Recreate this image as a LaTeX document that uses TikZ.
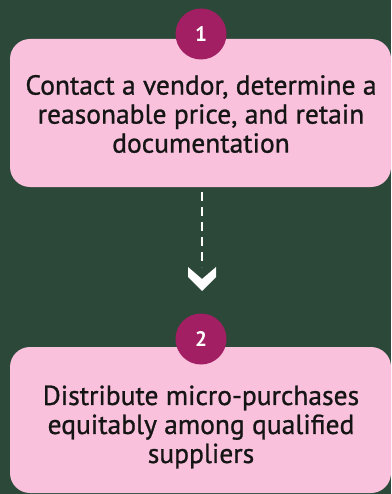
\documentclass[tikz,border=0pt]{standalone}
\usepackage{fontspec}
\setmainfont{PT Sans}
\newfontfamily\cardfont[FakeBold=0.9]{PT Sans}
\begin{document}
\begin{tikzpicture}[x=1pt,y=-1pt,
  board/.style={fill=chalk},
  stepcard/.style={fill=cardpink, rounded corners=20pt, inner sep=0pt},
  badge/.style={circle, fill=badgemag, minimum size=51pt, inner sep=0pt, text=white, font=\fontsize{21}{22}\selectfont\bfseries},
  cardtext/.style={align=center, text=inkdark, font=\cardfont\fontsize{27.5}{29}\selectfont},
  dashline/.style={draw=white, line width=2.6pt, dash pattern=on 9pt off 6pt},
  chevron/.style={fill=white}]
\definecolor{chalk}{HTML}{2C4838}
\definecolor{cardpink}{HTML}{F9C1DC}
\definecolor{badgemag}{HTML}{A31F63}
\definecolor{inkdark}{HTML}{151515}
\useasboundingbox (0,0) rectangle (391,494);
\fill[board] (0,0) rectangle (391,494);
% card 1
\node[stepcard, minimum width=381pt, minimum height=148pt] (b1) at (200.5,113) {};
\node[cardtext] (t1) at (201,114) {Contact a vendor, determine a\\reasonable price, and retain\\documentation};
\node[badge] (c1) at (201,34) {1};
% connector
\coordinate (chev) at (202,267);
\draw[dashline] (202,192) -- (chev);
\fill[chevron] (188,267) -- (202,279) -- (216,267) -- (216,277) -- (202,291) -- (188,277) -- cycle;
% card 2
\node[stepcard, minimum width=381pt, minimum height=146pt] (b2) at (200.5,420) {};
\node[cardtext] (t2) at (201,427) {Distribute micro-purchases\\equitably among qualified\\suppliers};
\node[badge] (c2) at (201,339) {2};
\end{tikzpicture}
\end{document}
